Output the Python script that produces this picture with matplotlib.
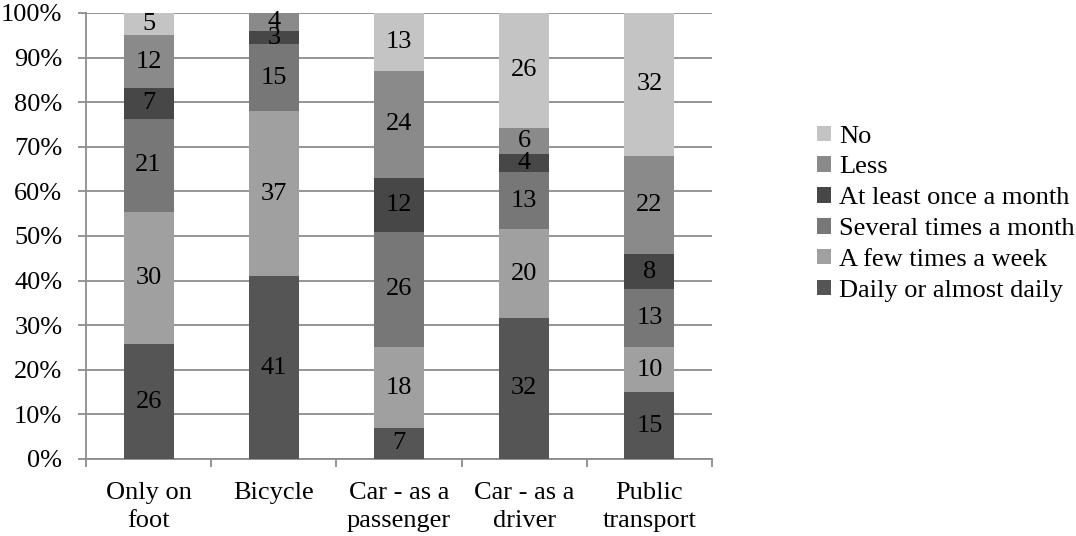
import numpy as np
import matplotlib.pyplot as plt
from matplotlib.ticker import FixedLocator, PercentFormatter

plt.rcParams["font.family"] = ["Liberation Serif", "DejaVu Serif"]
plt.rcParams["font.size"] = 19

categories = ["Only on\nfoot", "Bicycle", "Car - as a\npassenger", "Car - as a\ndriver", "Public\ntransport"]
daily = [26, 41, 7, 32, 15]
few_week = [30, 37, 18, 20, 10]
several_month = [21, 15, 26, 13, 13]
once_month = [7, 3, 12, 4, 8]
less = [12, 4, 24, 6, 22]
no = [5, 0, 13, 26, 32]

series = [
    ("Daily or almost daily", daily, "#555555"),
    ("A few times a week", few_week, "#a0a0a0"),
    ("Several times a month", several_month, "#777777"),
    ("At least once a month", once_month, "#474747"),
    ("Less", less, "#8a8a8a"),
    ("No", no, "#c4c4c4"),
]

# each column is scaled to 100%
totals = np.sum([s[1] for s in series], axis=0)
x = np.arange(len(categories))

fig = plt.figure(figsize=(10.76, 5.36), dpi=100)
ax = fig.add_axes([0.0799, 0.1437, 0.5818, 0.8321])

bottom = np.zeros(len(categories))
handles = []
for name, vals, color in series:
    share = np.array(vals) / totals * 100
    bars = ax.bar(x, share, 0.4, bottom=bottom, color=color, label=name, zorder=3)
    for xi, b, s, v in zip(x, bottom, share, vals):
        if v > 0:
            ax.text(xi, b + s / 2, str(v), ha="center", va="center", zorder=4)
    handles.append(bars)
    bottom += share

ax.set_xlim(-0.5, len(categories) - 0.5)
ax.set_ylim(0, 100)
ax.set_yticks(np.arange(0, 101, 10))
ax.yaxis.set_major_formatter(PercentFormatter(decimals=0))
ax.grid(axis="y", color="#8c8c8c", linewidth=1.3, zorder=0)

ax.set_xticks(x)
ax.set_xticklabels(categories, linespacing=1.38)
ax.xaxis.set_minor_locator(FixedLocator(np.arange(-0.5, len(categories), 1)))
ax.tick_params(axis="x", which="major", length=0, pad=16.5)
ax.tick_params(axis="x", which="minor", length=6, color="#8c8c8c", width=1.3)
ax.tick_params(axis="y", length=6, color="#8c8c8c", width=1.3, pad=11)

for side in ["top", "right"]:
    ax.spines[side].set_visible(False)
for side in ["left", "bottom"]:
    ax.spines[side].set_color("#8c8c8c")
    ax.spines[side].set_linewidth(1.3)

ax.legend(handles[::-1], [s[0] for s in series][::-1], loc="center left",
          bbox_to_anchor=(1.168, 0.55), frameon=False, handlelength=0.53,
          handleheight=0.53, handletextpad=0.3, labelspacing=0.33, borderpad=0,
          borderaxespad=0)

fig.savefig("out.png", dpi=100)
